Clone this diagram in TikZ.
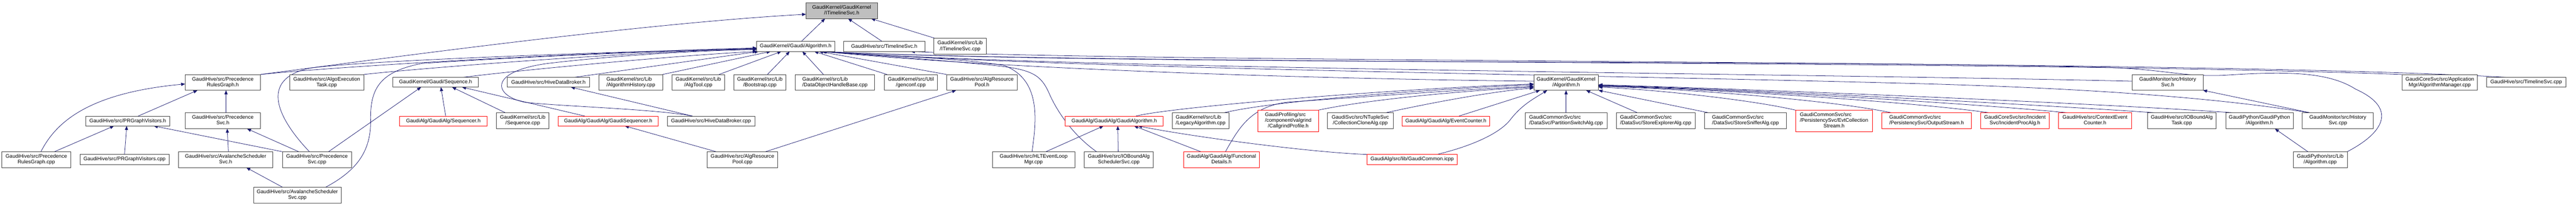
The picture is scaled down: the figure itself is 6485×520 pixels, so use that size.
\documentclass[tikz,border=0pt]{standalone}
\usepackage{fontspec}
\setmainfont{Liberation Sans}
\usetikzlibrary{arrows.meta}
\definecolor{edgec}{HTML}{191970}
\definecolor{bord}{HTML}{404040}
\definecolor{rootfill}{HTML}{BFBFBF}
\newcommand\LabTwo[2]{\begin{tabular}{@{}l@{}}#1\\\multicolumn{1}{@{}c@{}}{#2}\end{tabular}}
\newcommand\LabThree[3]{\begin{tabular}{@{}l@{}}#1\\#2\\\multicolumn{1}{@{}c@{}}{#3}\end{tabular}}
\pgfdeclarelayer{bgl}
\pgfdeclarelayer{edges}
\pgfsetlayers{bgl,edges,main}
\tikzset{
  fbox/.style={draw=bord, line width=1pt, inner sep=0pt, outer sep=0pt, fill=white, font=\fontsize{13}{14.5}\selectfont},
  rbox/.style={fbox, draw=red},
  gbox/.style={fbox, fill=rootfill},
  dep/.style={draw=edgec, line width=1pt, -{Triangle[length=10pt,width=8pt]}},
}
\begin{document}
\begin{tikzpicture}[x=1pt,y=-1pt]
\begin{pgfonlayer}{bgl}
\fill[white] (0,0) rectangle (6485,520);
\end{pgfonlayer}
\useasboundingbox (0,0) rectangle (6485,520);
% row 0-1
\node[gbox, minimum width=180pt, minimum height=40pt] (R) at (2119,27) {\LabTwo{GaudiKernel/GaudiKernel}{/ITimelineSvc.h}};
\node[fbox, minimum width=196pt, minimum height=26pt] (A) at (2003,117) {GaudiKernel/Gaudi/Algorithm.h};
\node[fbox, minimum width=204pt, minimum height=26pt] (T) at (2226,117) {GaudiHive/src/TimelineSvc.h};
\node[fbox, minimum width=132pt, minimum height=40pt] (Ic) at (2417,117) {\LabTwo{GaudiKernel/src/Lib}{/ITimelineSvc.cpp}};
% row 2
\node[fbox, minimum width=190pt, minimum height=40pt] (PRGh) at (561,208) {\LabTwo{GaudiHive/src/Precedence}{RulesGraph.h}};
\node[fbox, minimum width=187pt, minimum height=40pt] (AET) at (822.5,208) {\LabTwo{GaudiHive/src/AlgoExecution}{Task.cpp}};
\node[fbox, minimum width=215pt, minimum height=25pt] (SeqH) at (1096.5,207.5) {GaudiKernel/Gaudi/Sequence.h};
\node[fbox, minimum width=207pt, minimum height=25pt] (HDBh) at (1380.5,207.5) {GaudiHive/src/HiveDataBroker.h};
\node[fbox, minimum width=160pt, minimum height=40pt] (AHist) at (1588,208) {\LabTwo{GaudiKernel/src/Lib}{/AlgorithmHistory.cpp}};
\node[fbox, minimum width=132pt, minimum height=40pt] (AlgTool) at (1758,208) {\LabTwo{GaudiKernel/src/Lib}{/AlgTool.cpp}};
\node[fbox, minimum width=132pt, minimum height=40pt] (Boot) at (1913,208) {\LabTwo{GaudiKernel/src/Lib}{/Bootstrap.cpp}};
\node[fbox, minimum width=200pt, minimum height=40pt] (DOHB) at (2102,208) {\LabTwo{GaudiKernel/src/Lib}{/DataObjectHandleBase.cpp}};
\node[fbox, minimum width=134pt, minimum height=40pt] (genconf) at (2293,208) {\LabTwo{GaudiKernel/src/Util}{/genconf.cpp}};
\node[fbox, minimum width=178pt, minimum height=40pt] (ARPh) at (2472,208) {\LabTwo{GaudiHive/src/AlgResource}{Pool.h}};
\node[fbox, minimum width=163pt, minimum height=40pt] (K) at (3942.5,208) {\LabTwo{GaudiKernel/GaudiKernel}{/Algorithm.h}};
\node[fbox, minimum width=178pt, minimum height=40pt] (HSh) at (5457,208) {\LabTwo{GaudiMonitor/src/History}{Svc.h}};
\node[fbox, minimum width=190pt, minimum height=40pt] (AMgr) at (6142,208) {\LabTwo{GaudiCoreSvc/src/Application}{Mgr/AlgorithmManager.cpp}};
\node[fbox, minimum width=199pt, minimum height=25pt] (TSc) at (6359.5,207.5) {GaudiHive/src/TimelineSvc.cpp};
% row 3
\node[fbox, minimum width=190pt, minimum height=40pt] (PSh) at (561,305) {\LabTwo{GaudiHive/src/Precedence}{Svc.h}};
\node[fbox, minimum width=211pt, minimum height=25pt] (PRGVh) at (321.5,305.5) {GaudiHive/src/PRGraphVisitors.h};
\node[rbox, minimum width=220pt, minimum height=25pt] (Seqr) at (1116,305.5) {GaudiAlg/GaudiAlg/Sequencer.h};
\node[fbox, minimum width=132pt, minimum height=40pt] (SeqCpp) at (1316,305) {\LabTwo{GaudiKernel/src/Lib}{/Sequence.cpp}};
\node[rbox, minimum width=252pt, minimum height=25pt] (GSeq) at (1531,305.5) {GaudiAlg/GaudiAlg/GaudiSequencer.h};
\node[fbox, minimum width=220pt, minimum height=25pt] (HDBcpp) at (1790,305.5) {GaudiHive/src/HiveDataBroker.cpp};
\node[rbox, minimum width=246pt, minimum height=25pt] (GAlg) at (2805,305.5) {GaudiAlg/GaudiAlg/GaudiAlgorithm.h};
\node[fbox, minimum width=143pt, minimum height=40pt] (Legacy) at (3022.5,305) {\LabTwo{GaudiKernel/src/Lib}{/LegacyAlgorithm.cpp}};
\node[rbox, minimum width=152pt, minimum height=54pt] (Callg) at (3243,305) {\LabThree{GaudiProfiling/src}{/component/valgrind}{/CallgrindProfile.h}};
\node[fbox, minimum width=165pt, minimum height=40pt] (CCA) at (3424.5,305) {\LabTwo{GaudiSvc/src/NTupleSvc}{/CollectionCloneAlg.cpp}};
\node[rbox, minimum width=220pt, minimum height=25pt] (EvC) at (3640,305.5) {GaudiAlg/GaudiAlg/EventCounter.h};
\node[fbox, minimum width=207pt, minimum height=40pt] (PSA) at (3942.5,305) {\LabTwo{GaudiCommonSvc/src}{/DataSvc/PartitionSwitchAlg.cpp}};
\node[fbox, minimum width=198pt, minimum height=40pt] (SEA) at (4168,305) {\LabTwo{GaudiCommonSvc/src}{/DataSvc/StoreExplorerAlg.cpp}};
\node[fbox, minimum width=206pt, minimum height=40pt] (SSA) at (4394,305) {\LabTwo{GaudiCommonSvc/src}{/DataSvc/StoreSnifferAlg.cpp}};
\node[rbox, minimum width=194pt, minimum height=54pt] (ECS) at (4617,305) {\LabThree{GaudiCommonSvc/src}{/PersistencySvc/EvtCollection}{Stream.h}};
\node[rbox, minimum width=226pt, minimum height=40pt] (OS) at (4850,305) {\LabTwo{GaudiCommonSvc/src}{/PersistencySvc/OutputStream.h}};
\node[rbox, minimum width=173pt, minimum height=40pt] (IPA) at (5072.5,305) {\LabTwo{GaudiCoreSvc/src/Incident}{Svc/IncidentProcAlg.h}};
\node[rbox, minimum width=184pt, minimum height=40pt] (CEC) at (5274,305) {\LabTwo{GaudiHive/src/ContextEvent}{Counter.h}};
\node[fbox, minimum width=173pt, minimum height=40pt] (IOT) at (5492.5,305) {\LabTwo{GaudiHive/src/IOBoundAlg}{Task.cpp}};
\node[fbox, minimum width=170pt, minimum height=40pt] (GPAh) at (5688,305) {\LabTwo{GaudiPython/GaudiPython}{/Algorithm.h}};
\node[fbox, minimum width=179pt, minimum height=40pt] (HScpp) at (5885.5,305) {\LabTwo{GaudiMonitor/src/History}{Svc.cpp}};
% row 4
\node[fbox, minimum width=173pt, minimum height=40pt] (PRGcpp) at (91.5,403) {\LabTwo{GaudiHive/src/Precedence}{RulesGraph.cpp}};
\node[fbox, minimum width=225pt, minimum height=25pt] (PRGVcpp) at (313.5,402.5) {GaudiHive/src/PRGraphVisitors.cpp};
\node[fbox, minimum width=238pt, minimum height=40pt] (ASSh) at (568,403) {\LabTwo{GaudiHive/src/AvalancheScheduler}{Svc.h}};
\node[fbox, minimum width=174pt, minimum height=40pt] (PScpp) at (798,403) {\LabTwo{GaudiHive/src/Precedence}{Svc.cpp}};
\node[fbox, minimum width=178pt, minimum height=40pt] (ARPcpp) at (1869,403) {\LabTwo{GaudiHive/src/AlgResource}{Pool.cpp}};
\node[fbox, minimum width=208pt, minimum height=40pt] (HLT) at (2602,403) {\LabTwo{GaudiHive/src/HLTEventLoop}{Mgr.cpp}};
\node[fbox, minimum width=173pt, minimum height=40pt] (IOS) at (2816.5,403) {\LabTwo{GaudiHive/src/IOBoundAlg}{SchedulerSvc.cpp}};
\node[rbox, minimum width=190pt, minimum height=40pt] (FD) at (3075,403) {\LabTwo{GaudiAlg/GaudiAlg/Functional}{Details.h}};
\node[rbox, minimum width=226pt, minimum height=25pt] (GC) at (3555,402.5) {GaudiAlg/src/lib/GaudiCommon.icpp};
\node[fbox, minimum width=136pt, minimum height=40pt] (GPAcpp) at (5841,403) {\LabTwo{GaudiPython/src/Lib}{/Algorithm.cpp}};
% row 5
\node[fbox, minimum width=221pt, minimum height=40pt] (ASScpp) at (748.5,493) {\LabTwo{GaudiHive/src/AvalancheScheduler}{Svc.cpp}};

\begin{pgfonlayer}{edges}
% to root
\draw[dep] ([xshift=15pt]A.north) -- ([xshift=-42pt]R.south);
\draw[dep] ([xshift=-6pt]T.north) -- ([xshift=16pt]R.south);
\draw[dep] ([xshift=-62pt]Ic.north) -- ([xshift=74pt]R.south);
\draw[dep] (PRGh.north east) .. controls (950,150) and (1600,60) .. ([yshift=-9pt]R.west);
% to Gaudi/Algorithm.h
\draw[dep] (PRGh.north east) .. controls (850,168) and (1400,135) .. ([yshift=-4pt]A.west);
\draw[dep] (AET.north east) .. controls (1000,178) and (1500,135) .. ([yshift=-6pt]A.west);
\draw[dep] ([xshift=-19pt]PScpp.north) .. controls (700,300) and (650,200) .. (780,172) .. controls (900,155) and (1400,135) .. ([yshift=-5pt]A.west);
\draw[dep] ([xshift=70.5pt]ASScpp.north) .. controls (900,430) and (935,380) .. (933,300) .. controls (932,220) and (960,180) .. (1063,160) .. controls (1300,145) and (1600,130) .. ([yshift=-7pt]A.west);
\draw[dep] ([xshift=70.5pt]SeqH.north) .. controls (1300,178) and (1700,140) .. (A.south west);
\draw[dep] ([xshift=66.5pt]HDBh.north) -- ([xshift=-93pt]A.south);
\draw[dep] ([xshift=-47pt]HDBcpp.north) .. controls (1650,275) and (1400,268) .. (1320,258) .. controls (1240,240) and (1230,180) .. (1380,160) .. controls (1550,140) and (1750,128) .. ([yshift=-8pt]A.west);
\draw[dep] (AHist.north east) -- ([xshift=-63pt]A.south);
\draw[dep] ([xshift=52pt]AlgTool.north) -- ([xshift=-36pt]A.south);
\draw[dep] ([xshift=19pt]Boot.north) -- ([xshift=-15pt]A.south);
\draw[dep] ([xshift=-29pt]DOHB.north) -- ([xshift=17pt]A.south);
\draw[dep] ([xshift=7pt]genconf.north west) -- ([xshift=47pt]A.south);
\draw[dep] (ARPh.north west) -- ([xshift=59pt]A.south);
\draw[dep] ([yshift=3pt]K.west) .. controls (3400,200) and (2600,180) .. ([xshift=65pt]A.south);
\draw[dep] ([yshift=3pt]HSh.west) .. controls (4500,185) and (2700,175) .. ([xshift=66pt]A.south);
\draw[dep] ([xshift=-68.5pt]HScpp.north) .. controls (5600,250) and (5300,225) .. (4860,212) .. controls (4000,188) and (2700,175) .. ([xshift=67pt]A.south);
\draw[dep] (AMgr.north west) .. controls (5000,150) and (2800,165) .. ([xshift=68pt]A.south);
\draw[dep] (GPAcpp.north east) .. controls (6010,330) and (6030,270) .. (5930,225) .. controls (5860,180) and (5750,180) .. (5600,190) .. controls (5500,195) and (5450,175) .. (5300,170) .. controls (4500,150) and (2800,165) .. ([xshift=68pt]A.south);
\draw[dep] ([xshift=-4pt]HLT.north) .. controls (2610,300) and (2620,200) .. (2527,165) .. controls (2400,145) and (2200,140) .. ([xshift=66pt]A.south);
\draw[dep] ([xshift=-56pt]IOS.north) .. controls (2700,340) and (2660,280) .. (2640,233) .. controls (2620,190) and (2600,175) .. (2500,165) .. controls (2350,150) and (2200,140) .. ([xshift=66pt]A.south);
% to TimelineSvc.h
\draw[dep] ([xshift=-52pt]TSc.north) .. controls (5500,150) and (3000,160) .. ([xshift=67pt]T.south);
% to GaudiKernel/Algorithm.h
\draw[dep] ([xshift=55pt]GAlg.north) .. controls (2950,270) and (3500,225) .. ([yshift=-4pt]K.west);
\draw[dep] ([xshift=57.5pt]Legacy.north) .. controls (3200,255) and (3600,225) .. ([yshift=-6pt]K.west);
\draw[dep] ([xshift=10pt]FD.north) .. controls (3120,320) and (3150,270) .. (3240,258) .. controls (3500,240) and (3700,225) .. ([yshift=-10pt]K.west);
\draw[dep] (Callg.north east) .. controls (3450,250) and (3700,228) .. ([yshift=-12pt]K.west);
\draw[dep] ([xshift=62.5pt]CCA.north) .. controls (3600,260) and (3750,232) .. ([yshift=-14pt]K.west);
\draw[dep] ([xshift=33pt]EvC.north) -- ([xshift=-65.5pt]K.south);
\draw[dep] ([xshift=62pt]GC.north) .. controls (3700,370) and (3770,340) .. (3800,305) .. controls (3830,265) and (3860,250) .. ([xshift=-47.5pt]K.south);
\draw[dep] (PSA.north) -- (K.south);
\draw[dep] ([xshift=-45pt]SEA.north) -- ([xshift=50.5pt]K.south);
\draw[dep] ([xshift=-91pt]SSA.north) -- (K.south east);
\draw[dep] (ECS.north west) .. controls (4400,250) and (4150,225) .. ([yshift=-12pt]K.east);
\draw[dep] ([xshift=-87pt]OS.north) .. controls (4600,250) and (4200,222) .. ([yshift=-10pt]K.east);
\draw[dep] ([xshift=-62.5pt]IPA.north) .. controls (4800,255) and (4300,225) .. ([yshift=-9pt]K.east);
\draw[dep] ([xshift=-66pt]CEC.north) .. controls (4900,255) and (4300,224) .. ([yshift=-8pt]K.east);
\draw[dep] ([xshift=-62.5pt]IOT.north) .. controls (5100,262) and (4400,226) .. ([yshift=-7pt]K.east);
\draw[dep] ([xshift=-61pt]GPAh.north) .. controls (5300,262) and (4500,228) .. ([yshift=-6pt]K.east);
% to GaudiAlgorithm.h
\draw[dep] (GC.north west) .. controls (3300,385) and (3000,345) .. ([xshift=60pt]GAlg.south);
\draw[dep] ([xshift=-52pt]FD.north) -- ([xshift=50pt]GAlg.south);
\draw[dep] ([xshift=-1.5pt]IOS.north) -- ([xshift=9pt]GAlg.south);
\draw[dep] ([xshift=31pt]HLT.north) -- ([xshift=-27pt]GAlg.south);
% left cluster
\draw[dep] ([xshift=8pt]PSh.north) -- ([xshift=8pt]PRGh.south);
\draw[dep] ([xshift=26.5pt]PRGVh.north) -- ([xshift=-64pt]PRGh.south);
\draw[dep] ([xshift=11.5pt]PRGcpp.north) .. controls (140,310) and (220,235) .. ([yshift=-4pt]PRGh.west);
\draw[dep] ([xshift=45.5pt]PRGcpp.north) -- ([xshift=-34.5pt]PRGVh.south);
\draw[dep] (PRGVcpp.north) -- ([xshift=-2.5pt]PRGVh.south);
\draw[dep] (PScpp.north west) -- ([xshift=65.5pt]PRGVh.south);
\draw[dep] ([xshift=7pt]ASSh.north) -- ([xshift=11pt]PSh.south);
\draw[dep] ([xshift=-46pt]PScpp.north) -- ([xshift=61pt]PSh.south);
\draw[dep] ([xshift=-36.5pt]ASScpp.north) -- ([xshift=52pt]ASSh.south);
\draw[dep] ([xshift=29pt]PScpp.north) -- ([xshift=-36.5pt]SeqH.south);
\draw[dep] ([xshift=6pt]Seqr.north) -- ([xshift=13.5pt]SeqH.south);
\draw[dep] ([xshift=-43pt]SeqCpp.north) -- ([xshift=41.5pt]SeqH.south);
\draw[dep] ([xshift=-59pt]GSeq.north) -- ([xshift=66.5pt]SeqH.south);
\draw[dep] ([xshift=-47pt]HDBcpp.north) -- ([xshift=56.5pt]HDBh.south);
\draw[dep] ([xshift=-66pt]ARPcpp.north) -- ([xshift=42pt]GSeq.south);
\draw[dep] ([xshift=58pt]ARPcpp.north) -- ([xshift=-65pt]ARPh.south);
\draw[dep] ([xshift=-68.5pt]HScpp.north) -- (HSh.south east);
\draw[dep] ([xshift=-31pt]GPAcpp.north) -- ([xshift=39pt]GPAh.south);
\end{pgfonlayer}
\end{tikzpicture}
\end{document}
